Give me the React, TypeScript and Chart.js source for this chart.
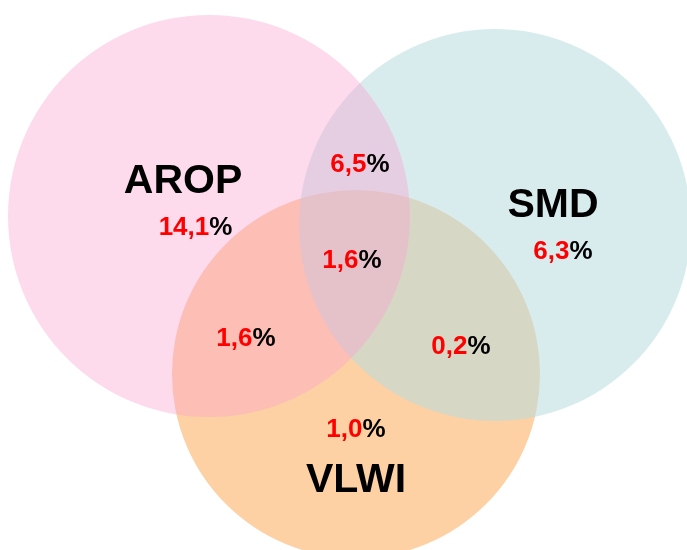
import React, { useEffect, useRef } from "react";
import { Chart, registerables } from "chart.js";

Chart.register(...registerables);

// Sets (circles) of the Venn diagram, in a 687 x 550 coordinate space
const setNames = ["AROP", "SMD", "VLWI"];
const setCenterX = [209, 495, 356];
const setCenterY = [216, 225, 374];
const setRadius = [201, 196, 184];
const setColors = ["rgba(250,162,207,0.4)", "rgba(184,220,224,0.55)", "rgba(253,209,164,1)"];

// Set name label anchors
const nameX = [183, 553, 356];
const nameY = [193, 217, 492];

// Region percentage values
const regionValues = ["14,1", "6,5", "6,3", "1,6", "1,6", "0,2", "1,0"];
const regionX = [195.5, 360, 563, 352, 246, 461, 356];
const regionY = [235, 172, 259, 268, 346, 354, 437];

const FONT = "'Liberation Sans', Arial, Helvetica, sans-serif";

const labelPlugin = {
  id: "vennLabels",
  afterDatasetsDraw(chart: any) {
    const ctx = chart.ctx as CanvasRenderingContext2D;
    const xs = chart.scales.x;
    const ys = chart.scales.y;
    ctx.save();
    ctx.textBaseline = "alphabetic";
    ctx.textAlign = "left";
    // names
    ctx.font = `bold 41px ${FONT}`;
    ctx.fillStyle = "#000000";
    setNames.forEach((n, i) => {
      const w = ctx.measureText(n).width;
      ctx.fillText(n, xs.getPixelForValue(nameX[i]) - w / 2, ys.getPixelForValue(nameY[i]));
    });
    // region values
    ctx.font = `bold 26px ${FONT}`;
    regionValues.forEach((v, i) => {
      const w1 = ctx.measureText(v).width;
      const w2 = ctx.measureText("%").width;
      const x0 = xs.getPixelForValue(regionX[i]) - (w1 + w2) / 2;
      const y0 = ys.getPixelForValue(regionY[i]);
      ctx.fillStyle = "#FF0000";
      ctx.fillText(v, x0, y0);
      ctx.fillStyle = "#000000";
      ctx.fillText("%", x0 + w1, y0);
    });
    ctx.restore();
  },
};

export default function App() {
  const ref = useRef<HTMLCanvasElement>(null);
  useEffect(() => {
    if (!ref.current) return;
    const chart = new Chart(ref.current, {
      type: "bubble",
      data: {
        datasets: setNames.map((name, i) => ({
          label: name,
          data: [{ x: setCenterX[i], y: setCenterY[i], r: setRadius[i] }],
          backgroundColor: setColors[i],
          borderWidth: 0,
          hoverBorderWidth: 0,
          clip: false as any,
        })),
      },
      options: {
        responsive: false,
        animation: false,
        events: [],
        layout: { padding: 0, autoPadding: false },
        plugins: {
          legend: { display: false },
          tooltip: { enabled: false },
          title: { display: false },
        },
        scales: {
          x: { type: "linear", min: 0, max: 687, display: false },
          y: { type: "linear", min: 0, max: 550, reverse: true, display: false },
        },
      },
      plugins: [labelPlugin],
    });
    return () => chart.destroy();
  }, []);
  return (
    <div style={{ position: "fixed", left: 0, top: 0, width: 687, height: 550, background: "#ffffff" }}>
      <canvas ref={ref} width={687} height={550} style={{ display: "block" }} />
    </div>
  );
}
